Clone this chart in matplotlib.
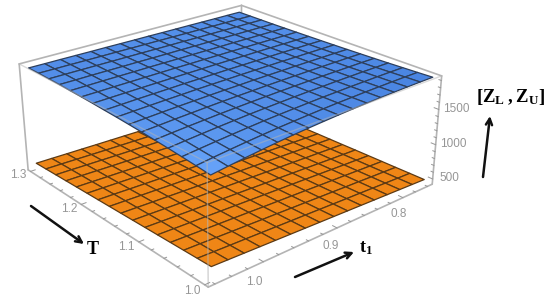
import numpy as np
import matplotlib
matplotlib.use('Agg')
import matplotlib.pyplot as plt
from matplotlib.colors import LinearSegmentedColormap
from matplotlib.patches import FancyArrowPatch
from mpl_toolkits.mplot3d import proj3d

# T runs along rows, t1 along columns
T = [1.00, 1.02, 1.04, 1.06, 1.08, 1.10, 1.12, 1.14, 1.16, 1.18, 1.20, 1.22, 1.24, 1.26, 1.28, 1.30]
t1 = [0.76, 0.78, 0.80, 0.82, 0.84, 0.86, 0.88, 0.90, 0.92, 0.94, 0.96, 0.98, 1.00, 1.02, 1.04, 1.06]

z_upper = [
    [1950, 1948, 1945, 1940, 1935, 1928, 1920, 1910, 1898, 1885, 1870, 1852, 1832, 1810, 1786, 1760],
    [1942, 1941, 1938, 1934, 1930, 1923, 1917, 1908, 1898, 1886, 1874, 1858, 1841, 1822, 1801, 1778],
    [1935, 1934, 1932, 1928, 1925, 1919, 1914, 1906, 1897, 1888, 1877, 1863, 1848, 1832, 1814, 1795],
    [1928, 1927, 1926, 1923, 1920, 1915, 1911, 1905, 1897, 1889, 1880, 1868, 1856, 1842, 1827, 1810],
    [1922, 1922, 1920, 1918, 1916, 1912, 1908, 1903, 1897, 1890, 1882, 1873, 1862, 1851, 1838, 1824],
    [1917, 1917, 1915, 1914, 1912, 1909, 1906, 1902, 1896, 1891, 1885, 1877, 1868, 1859, 1848, 1837],
    [1912, 1912, 1911, 1910, 1909, 1906, 1904, 1901, 1896, 1892, 1887, 1880, 1874, 1866, 1857, 1848],
    [1908, 1908, 1907, 1906, 1906, 1904, 1902, 1900, 1896, 1893, 1889, 1883, 1878, 1872, 1865, 1858],
    [1904, 1905, 1904, 1904, 1903, 1901, 1900, 1899, 1896, 1893, 1891, 1886, 1882, 1878, 1872, 1866],
    [1901, 1901, 1901, 1901, 1901, 1899, 1899, 1898, 1896, 1894, 1892, 1889, 1886, 1883, 1879, 1875],
    [1898, 1898, 1898, 1898, 1898, 1898, 1897, 1897, 1895, 1895, 1893, 1891, 1889, 1887, 1884, 1882],
    [1895, 1896, 1896, 1896, 1897, 1896, 1896, 1896, 1895, 1895, 1895, 1893, 1892, 1891, 1889, 1887],
    [1893, 1894, 1894, 1894, 1895, 1895, 1895, 1896, 1895, 1895, 1896, 1895, 1895, 1895, 1893, 1893],
    [1892, 1893, 1893, 1893, 1894, 1894, 1895, 1895, 1895, 1896, 1896, 1896, 1896, 1896, 1896, 1896],
    [1891, 1892, 1892, 1892, 1893, 1893, 1894, 1895, 1895, 1896, 1897, 1897, 1897, 1898, 1898, 1899],
    [1890, 1891, 1891, 1892, 1893, 1893, 1894, 1895, 1895, 1896, 1897, 1897, 1898, 1899, 1899, 1900],
]

z_lower = [
    [500, 508, 516, 524, 532, 540, 548, 556, 564, 572, 580, 588, 596, 604, 612, 620],
    [497, 504, 512, 520, 528, 535, 543, 551, 559, 566, 574, 582, 590, 597, 605, 613],
    [493, 501, 508, 516, 523, 531, 538, 546, 553, 561, 568, 576, 583, 591, 599, 606],
    [490, 497, 504, 512, 519, 526, 534, 541, 548, 555, 563, 570, 577, 584, 592, 599],
    [487, 494, 500, 508, 515, 522, 529, 536, 543, 550, 557, 564, 571, 578, 585, 592],
    [484, 490, 496, 503, 511, 517, 524, 530, 537, 544, 551, 557, 564, 571, 578, 585],
    [480, 486, 493, 499, 506, 512, 519, 525, 532, 539, 545, 551, 558, 565, 572, 578],
    [477, 483, 489, 495, 502, 508, 514, 520, 527, 533, 539, 545, 552, 558, 565, 571],
    [474, 479, 485, 491, 498, 503, 510, 515, 522, 528, 534, 539, 546, 552, 558, 564],
    [470, 476, 481, 487, 493, 499, 505, 510, 516, 522, 528, 533, 539, 545, 552, 557],
    [467, 472, 477, 483, 489, 494, 500, 505, 511, 517, 522, 527, 533, 539, 545, 550],
    [464, 468, 473, 479, 485, 489, 495, 500, 506, 511, 516, 521, 527, 532, 538, 543],
    [460, 465, 469, 475, 480, 485, 490, 495, 500, 506, 510, 515, 520, 526, 532, 536],
    [457, 461, 466, 471, 476, 480, 486, 490, 495, 500, 505, 509, 514, 519, 525, 529],
    [453, 458, 462, 467, 471, 476, 481, 485, 490, 495, 499, 503, 508, 513, 518, 522],
    [450, 454, 458, 463, 467, 471, 476, 480, 484, 489, 493, 497, 502, 506, 511, 515],
]

T_ticks = [1.0, 1.1, 1.2, 1.3]
t1_ticks = [0.8, 0.9, 1.0]
z_ticks = [500, 1000, 1500]

x0, x1 = 0.995, 1.305
y0, y1 = 0.752, 1.068
z0, z1 = 423, 1962

GREY = '#b4b4b4'
TXT = '#969696'

plt.rcParams['mathtext.fontset'] = 'custom'
plt.rcParams['mathtext.bf'] = 'Liberation Serif:bold'

fig = plt.figure(figsize=(5.5, 3.01), dpi=100)
# square axes wider than the figure's height, so the box is not cut off
ax = fig.add_axes([-0.1, -0.352, 1, 1.827], projection='3d', computed_zorder=False)
ax.set_proj_type('persp', focal_length=0.36)
ax.view_init(elev=24, azim=139.5)
ax.set_box_aspect((1, 1, 0.40), zoom=0.76)
ax.set_xlim(x0, x1)
ax.set_ylim(y0, y1)
ax.set_zlim(z0, z1)
ax.set_axis_off()

X, Y = np.meshgrid(T, t1, indexing='ij')
ZU = np.array(z_upper, dtype=float)
ZL = np.array(z_lower, dtype=float)


def edge(a, b, c, d, e, f, **kw):
    ax.plot([a, b], [c, d], [e, f], color=GREY, solid_capstyle='round', **kw)


# back part of the box, behind the surfaces
edge(x1, x1, y1, y1, z0, z1, lw=1.2, zorder=1)
edge(x0, x0, y0, y0, z0, z1, lw=1.2, zorder=1)
edge(x1, x1, y0, y0, z0, z1, lw=1.2, zorder=1)
edge(x1, x1, y0, y1, z1, z1, lw=1.2, zorder=1)
edge(x0, x1, y0, y0, z1, z1, lw=1.2, zorder=1)
edge(x0, x0, y1, y0, z0, z0, lw=1.2, zorder=1)
edge(x0, x1, y1, y1, z0, z0, lw=1.2, zorder=1)

blue = LinearSegmentedColormap.from_list('blue', ['#69a6fb', '#4a85e2'])
norm_u = (ZU[:-1, :-1] - ZU.min()) / (ZU.max() - ZU.min())
orange_face = '#ef8616'

ax.plot_surface(X, Y, ZL, rstride=1, cstride=1, color=orange_face, edgecolor='#5c3a14',
                linewidth=0.9, shade=False, zorder=2)
ax.plot_surface(X, Y, ZU, rstride=1, cstride=1, facecolors=blue(norm_u), edgecolor='#2d3f5c',
                linewidth=0.9, shade=False, zorder=3)

# front edges show through the surfaces
edge(x0, x0, y1, y1, z0, z1, lw=1.0, alpha=0.6, zorder=4)
edge(x0, x1, y1, y1, z1, z1, lw=1.0, alpha=0.5, zorder=4)
edge(x0, x0, y0, y1, z1, z1, lw=1.0, alpha=0.5, zorder=4)

# ticks
for v in np.arange(1.0, 1.301, 0.02):
    d = 0.006 if round(v, 2) in T_ticks else 0.003
    ax.plot([v, v], [y1, y1 - d], [z0, z0], color=TXT, lw=0.7, zorder=5)
for v in np.arange(0.76, 1.061, 0.02):
    d = 0.006 if round(v, 2) in t1_ticks else 0.003
    ax.plot([x0, x0 + d], [v, v], [z0, z0], color=TXT, lw=0.7, zorder=5)
for v in range(500, 1901, 100):
    d = 0.006 if v in z_ticks else 0.003
    ax.plot([x0, x0 + d], [y0, y0], [v, v], color=TXT, lw=0.7, zorder=5)


def label3d(x, y, z, s):
    # project by hand so the label is a plain 2D text
    xp, yp, _ = proj3d.proj_transform(x, y, z, ax.get_proj())
    ax.text2D(xp, yp, s, transform=ax.transData, color=TXT, fontsize=8.5,
              family='Liberation Sans', ha='center', va='center', zorder=6)


for v in T_ticks:
    label3d(v, y1 + 0.015, z0, '%.1f' % v)
for v in t1_ticks:
    label3d(x0 - 0.02, v + 0.03, z0, '%.1f' % v)
for v in z_ticks:
    label3d(x0, y0 - 0.03, v - 100, str(v))


def px(x, y):
    return x / 550, 1 - y / 301


# axis arrows and names
for start, end in [((31, 206), (84, 244)), ((295, 277), (354, 252)), ((483, 177), (490, 116))]:
    fig.add_artist(FancyArrowPatch(px(*start), px(*end), transform=fig.transFigure, arrowstyle='->',
                                   color='#111111', lw=1.8, mutation_scale=11,
                                   shrinkA=0, shrinkB=0))

fig.text(*px(93, 249), 'T', family='Liberation Serif', weight='bold', fontsize=13, ha='center', va='center')
fig.text(*px(366, 248), r'$\mathbf{t_1}$', fontsize=13, ha='center', va='center')
fig.text(*px(510, 97), r'$\mathbf{[Z_L\,,Z_U]}$', fontsize=13.5, ha='center', va='center')

fig.savefig('out.png', dpi=100)
